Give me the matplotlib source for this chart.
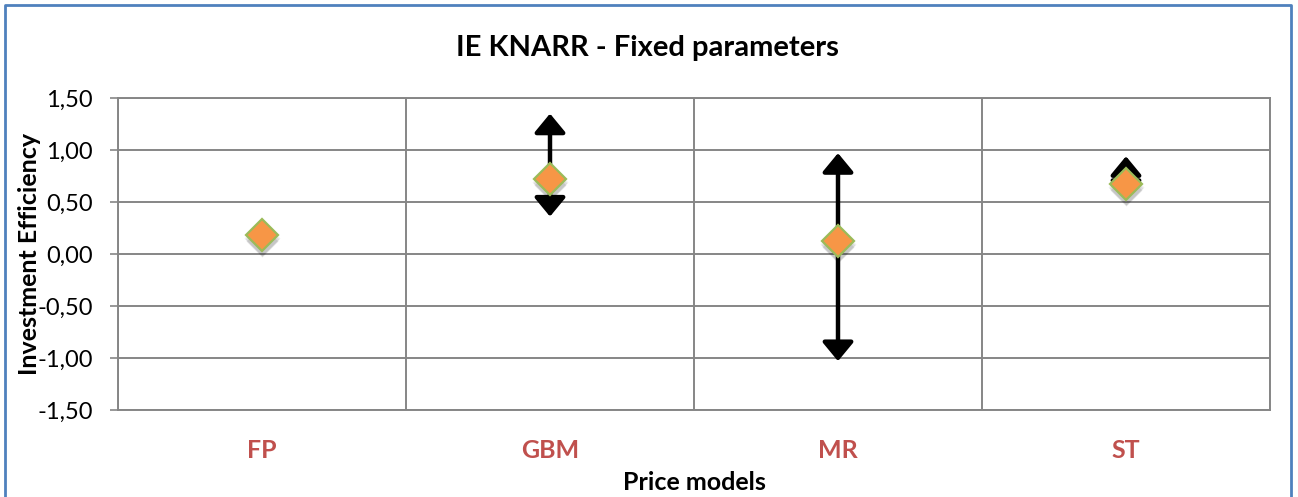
import matplotlib
matplotlib.use("Agg")
import matplotlib.pyplot as plt
import matplotlib.transforms as mtransforms
from matplotlib.lines import Line2D
from matplotlib.ticker import FuncFormatter, MultipleLocator

plt.rcParams['font.family'] = ['Lato', 'DejaVu Sans']

# investment efficiency per price model
models = ["FP", "GBM", "MR", "ST"]
ie_mean = [0.18, 0.72, 0.125, 0.67]
ie_low = [None, 0.36, -1.03, 0.52]
ie_high = [None, 1.35, 0.97, 0.94]

grid_col = "#868686"

fig = plt.figure(figsize=(12.98, 4.97), dpi=100)
ax = fig.add_axes([118 / 1298, 1 - 410 / 497, (1270 - 118) / 1298, (410 - 98) / 497])

ax.set_xlim(-0.5, len(models) - 0.5)
ax.set_ylim(-1.5, 1.5)
ax.yaxis.set_major_locator(MultipleLocator(0.5))
ax.yaxis.set_major_formatter(FuncFormatter(lambda v, p: f"{v:.2f}".replace(".", ",")))
ax.set_xticks(range(len(models)))
ax.set_xticklabels(models, color="#C0504D", fontweight="bold", fontsize=18)
ax.set_xticks([i + 0.5 for i in range(-1, len(models))], minor=True)
ax.tick_params(axis="x", which="both", length=0, pad=21)
ax.tick_params(axis="y", length=6, width=1.2, color=grid_col, labelsize=17, pad=12)

ax.grid(axis="y", which="major", color=grid_col, lw=1.4)
ax.grid(axis="x", which="minor", color=grid_col, lw=1.4)
ax.set_axisbelow(True)
for s in ax.spines.values():
    s.set_color(grid_col)
    s.set_linewidth(1.4)

# min/max arrows
for i, (lo, hi) in enumerate(zip(ie_low, ie_high)):
    if lo is None:
        continue
    ax.annotate("", xy=(i, hi), xytext=(i, lo),
                arrowprops=dict(arrowstyle="<|-|>,head_length=1.15,head_width=0.95",
                                mutation_scale=10, lw=3.2, color="black",
                                shrinkA=0, shrinkB=0), zorder=3)

# soft drop shadow under the markers
for k, a in enumerate([0.06, 0.08, 0.1]):
    off = mtransforms.offset_copy(ax.transData, fig=fig, x=0, y=-2 - k, units="points")
    ax.plot(range(len(models)), ie_mean, ls="none", marker="D", ms=16 + 2 - k,
            mfc="black", mec="none", alpha=a, transform=off, zorder=4)

ax.plot(range(len(models)), ie_mean, ls="none", marker="D", ms=16,
        mfc="#F79646", mec="#9BBB59", mew=1.6, zorder=5)

ax.set_ylabel("Investment Efficiency", fontweight="bold", fontsize=18, va="center")
ax.yaxis.set_label_coords((30 - 118) / 1152, 0.5)
ax.set_xlabel("Price models", fontweight="bold", fontsize=18, va="center")
ax.xaxis.set_label_coords(0.5, -(483 - 410) / 312)
fig.text(0.4985, 1 - 48 / 497, "IE KNARR - Fixed parameters", ha="center", va="center",
         fontweight="bold", fontsize=21)

# outer chart frame (open at the bottom)
border = "#4F81BD"
fig.add_artist(Line2D([5 / 1298, 5 / 1298, 1291 / 1298, 1291 / 1298],
                      [0, 1 - 5 / 497, 1 - 5 / 497, 0],
                      transform=fig.transFigure, color=border, lw=2))

fig.savefig("out.png", dpi=100)
